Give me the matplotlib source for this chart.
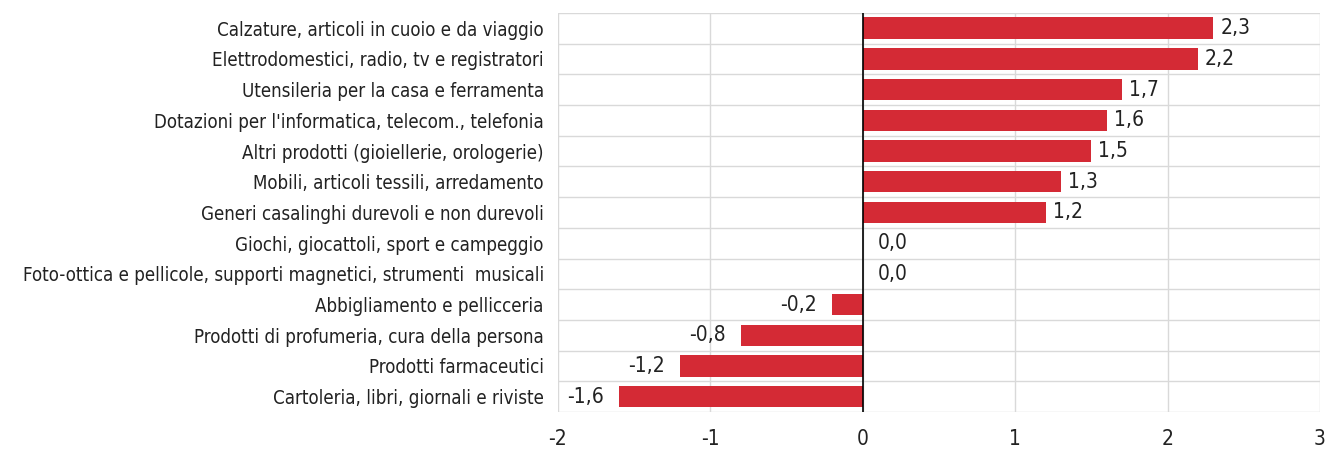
import numpy as np
import matplotlib
matplotlib.use('Agg')
import matplotlib.pyplot as plt

plt.rcParams['font.family'] = ['Liberation Sans Narrow', 'DejaVu Sans']
plt.rcParams['font.stretch'] = 'condensed'

categories = [
    'Calzature, articoli in cuoio e da viaggio',
    'Elettrodomestici, radio, tv e registratori',
    'Utensileria per la casa e ferramenta',
    "Dotazioni per l'informatica, telecom., telefonia",
    'Altri prodotti (gioiellerie, orologerie)',
    'Mobili, articoli tessili, arredamento',
    'Generi casalinghi durevoli e non durevoli',
    'Giochi, giocattoli, sport e campeggio',
    'Foto-ottica e pellicole, supporti magnetici, strumenti  musicali',
    'Abbigliamento e pellicceria',
    'Prodotti di profumeria, cura della persona',
    'Prodotti farmaceutici',
    'Cartoleria, libri, giornali e riviste',
]
values = [2.3, 2.2, 1.7, 1.6, 1.5, 1.3, 1.2, 0.0, 0.0, -0.2, -0.8, -1.2, -1.6]
xticks = [-2, -1, 0, 1, 2, 3]

fig = plt.figure(figsize=(13.28, 4.5), dpi=100)
ax = fig.add_axes([0.420, 0.0844, 0.574, 0.887])

y = np.arange(len(categories))
ax.barh(y, values, height=0.7, color='#d42a35', zorder=3)
ax.set_ylim(len(categories) - 0.5, -0.5)
ax.set_xlim(-2, 3)

# grid: vertical at ticks, horizontal at category boundaries
for xv in xticks:
    ax.axvline(xv, color='#d9d9d9', lw=1, zorder=1)
for b in np.arange(-0.5, len(categories), 1.0):
    ax.axhline(b, color='#d9d9d9', lw=1, zorder=1)
ax.axvline(0, color='black', lw=1.2, zorder=4)

for s in ax.spines.values():
    s.set_visible(False)

ax.set_xticks(xticks)
ax.set_xticklabels([str(t) for t in xticks], fontsize=15, color='#222222')
ax.set_yticks(y)
ax.set_yticklabels(categories, fontsize=13.4, color='#222222')
ax.tick_params(length=0)
ax.tick_params(axis='x', pad=12)
ax.tick_params(axis='y', pad=10)

for yi, v in zip(y, values):
    lab = f'{v:.1f}'.replace('.', ',')
    if v > 0:
        ax.annotate(lab, xy=(v, yi), xytext=(5, 0), textcoords='offset points',
                    ha='left', va='center', fontsize=15, color='#222222')
    elif v < 0:
        ax.annotate(lab, xy=(v, yi), xytext=(-11, 0), textcoords='offset points',
                    ha='right', va='center', fontsize=15, color='#222222')
    else:
        ax.annotate(lab, xy=(v, yi), xytext=(11, 0), textcoords='offset points',
                    ha='left', va='center', fontsize=15, color='#222222')

fig.savefig('out.png', dpi=100)
